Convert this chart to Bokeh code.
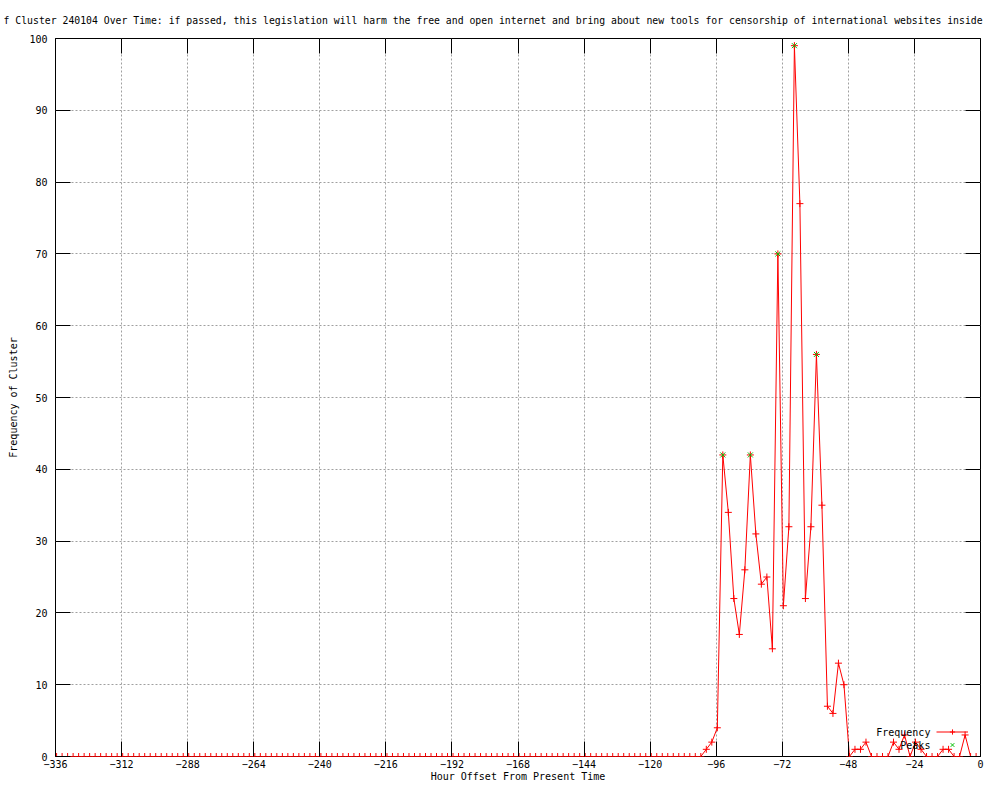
from bokeh.plotting import figure
from bokeh.models import Range1d, LinearAxis, Label, Legend, LegendItem, CustomJSTickFormatter
from bokeh.core.properties import value
from bokeh.embed import file_html
from bokeh.resources import INLINE

# ---- data ----
hours = [
    -335.6, -333.6, -331.6, -329.6, -327.6, -325.6, -323.6, -321.6, -319.6, -317.6, -315.6, -313.6,
    -311.6, -309.6, -307.6, -305.6, -303.6, -301.6, -299.6, -297.6, -295.6, -293.6, -291.6, -289.6,
    -287.6, -285.6, -283.6, -281.6, -279.6, -277.6, -275.6, -273.6, -271.6, -269.6, -267.6, -265.6,
    -263.6, -261.6, -259.6, -257.6, -255.6, -253.6, -251.6, -249.6, -247.6, -245.6, -243.6, -241.6,
    -239.6, -237.6, -235.6, -233.6, -231.6, -229.6, -227.6, -225.6, -223.6, -221.6, -219.6, -217.6,
    -215.6, -213.6, -211.6, -209.6, -207.6, -205.6, -203.6, -201.6, -199.6, -197.6, -195.6, -193.6,
    -191.6, -189.6, -187.6, -185.6, -183.6, -181.6, -179.6, -177.6, -175.6, -173.6, -171.6, -169.6,
    -167.6, -165.6, -163.6, -161.6, -159.6, -157.6, -155.6, -153.6, -151.6, -149.6, -147.6, -145.6,
    -143.6, -141.6, -139.6, -137.6, -135.6, -133.6, -131.6, -129.6, -127.6, -125.6, -123.6, -121.6,
    -119.6, -117.6, -115.6, -113.6, -111.6, -109.6, -107.6, -105.6, -103.6, -101.6, -99.6, -97.6,
    -95.6, -93.6, -91.6, -89.6, -87.6, -85.6, -83.6, -81.6, -79.6, -77.6, -75.6, -73.6,
    -71.6, -69.6, -67.6, -65.6, -63.6, -61.6, -59.6, -57.6, -55.6, -53.6, -51.6, -49.6,
    -47.6, -45.6, -43.6, -41.6, -39.6, -37.6, -35.6, -33.6, -31.6, -29.6, -27.6, -25.6,
    -23.6, -21.6, -19.6, -17.6, -15.6, -13.6, -11.6, -9.6, -7.6, -5.6, -3.6, -1.6,
]
freq = [
    0, 0, 0, 0, 0, 0, 0, 0, 0, 0, 0, 0,
    0, 0, 0, 0, 0, 0, 0, 0, 0, 0, 0, 0,
    0, 0, 0, 0, 0, 0, 0, 0, 0, 0, 0, 0,
    0, 0, 0, 0, 0, 0, 0, 0, 0, 0, 0, 0,
    0, 0, 0, 0, 0, 0, 0, 0, 0, 0, 0, 0,
    0, 0, 0, 0, 0, 0, 0, 0, 0, 0, 0, 0,
    0, 0, 0, 0, 0, 0, 0, 0, 0, 0, 0, 0,
    0, 0, 0, 0, 0, 0, 0, 0, 0, 0, 0, 0,
    0, 0, 0, 0, 0, 0, 0, 0, 0, 0, 0, 0,
    0, 0, 0, 0, 0, 0, 0, 0, 0, 0, 1, 2,
    4, 42, 34, 22, 17, 26, 42, 31, 24, 25, 15, 70,
    21, 32, 99, 77, 22, 32, 56, 35, 7, 6, 13, 10,
    0, 1, 1, 2, 0, 0, 0, 0, 2, 1, 3, 0,
    2, 1, 0, 0, 0, 1, 1, 0, 0, 3, 0, 0,
]
peak_hours = [-93.6, -83.6, -73.6, -67.6, -59.6]
peak_freq = [42, 42, 70, 99, 56]

x_ticks = [-336, -312, -288, -264, -240, -216, -192, -168, -144, -120, -96, -72, -48, -24, 0]
y_ticks = [0, 10, 20, 30, 40, 50, 60, 70, 80, 90, 100]

title_text = ("f Cluster 240104 Over Time: if passed, this legislation will harm the free and open "
              "internet and bring about new tools for censorship of international websites inside")
x_label = "Hour Offset From Present Time"
y_label = "Frequency of Cluster"
series_names = ["Frequency", "Peaks"]

FONT = "DejaVu Sans Mono"
FS = "10px"
RED = "#ff0000"
GREEN = "#00c000"
GRID = "#a0a0a0"

p = figure(width=984, height=784, output_backend="svg", toolbar_location=None,
           x_range=Range1d(-336, 0), y_range=Range1d(0, 100),
           min_border_left=55, min_border_right=4, min_border_top=38, min_border_bottom=27,
           x_axis_label=x_label, y_axis_label=y_label)
p.background_fill_color = "white"
p.border_fill_color = "white"
p.outline_line_color = "black"
p.outline_line_width = 1

p.title.text = title_text
p.title.align = "left"
p.title.offset = -52
p.title.text_font = FONT
p.title.text_font_size = "9.8px"
p.title.text_font_style = "normal"
p.title.text_color = "black"
p.title.standoff = 25

for ax, ticks in ((p.xaxis, x_ticks), (p.yaxis, y_ticks)):
    ax.ticker = ticks
    ax.major_tick_in = 15
    ax.major_tick_out = 0
    ax.major_tick_line_color = "black"
    ax.minor_tick_line_color = None
    ax.axis_line_color = None
    ax.major_label_text_font = FONT
    ax.major_label_text_font_size = FS
    ax.major_label_text_color = "black"
    ax.axis_label_text_font = FONT
    ax.axis_label_text_font_size = FS
    ax.axis_label_text_font_style = "normal"
    ax.axis_label_text_color = "black"
p.xaxis.major_label_standoff = 3
p.xaxis.axis_label_standoff = 0
p.yaxis.major_label_standoff = 8
p.yaxis.axis_label_standoff = 7

# mirror ticks on top and right borders
blank = CustomJSTickFormatter(code="return ''")
top = LinearAxis(ticker=x_ticks, formatter=blank, major_tick_in=15, major_tick_out=0,
                 major_label_standoff=0, major_label_text_font_size="1px",
                 minor_tick_line_color=None, axis_line_color=None, major_tick_line_color="black")
right = LinearAxis(ticker=y_ticks, formatter=blank, major_tick_in=15, major_tick_out=0,
                   major_label_standoff=0, major_label_text_font_size="1px",
                   minor_tick_line_color=None, axis_line_color=None, major_tick_line_color="black")
p.add_layout(top, "above")
p.add_layout(right, "right")

for g, ticks in ((p.xgrid, x_ticks), (p.ygrid, y_ticks)):
    g.ticker = ticks
    g.grid_line_color = GRID
    g.grid_line_dash = "2 2"
    g.grid_line_width = 1

r_line = p.line(hours, freq, line_color=RED, line_width=1)
r_pts = p.scatter(hours, freq, marker="cross", size=7, line_color=RED, line_width=1)
r_peak = p.scatter(peak_hours, peak_freq, marker="x", size=7, line_color=GREEN, line_width=1)

# gnuplot-style key: text on the left, sample on the right
legend = Legend(items=[LegendItem(label=value(" "), renderers=[r_line, r_pts]),
                       LegendItem(label=value(" "), renderers=[r_peak])],
                location=(881, 5), glyph_width=32, glyph_height=13, label_height=13,
                label_width=0, label_standoff=0, spacing=0, padding=0, margin=0,
                border_line_color=None, background_fill_alpha=0,
                label_text_font=FONT, label_text_font_size=FS)
p.add_layout(legend)

p.add_layout(Label(x=-18.2, y=3.34, text=series_names[0], text_font=FONT, text_font_size=FS,
                   text_color="black", text_align="right", text_baseline="middle"))
p.add_layout(Label(x=-18.2, y=1.53, text=series_names[1], text_font=FONT, text_font_size=FS,
                   text_color="black", text_align="right", text_baseline="middle"))

open("out.html", "w").write(file_html(p, INLINE))
